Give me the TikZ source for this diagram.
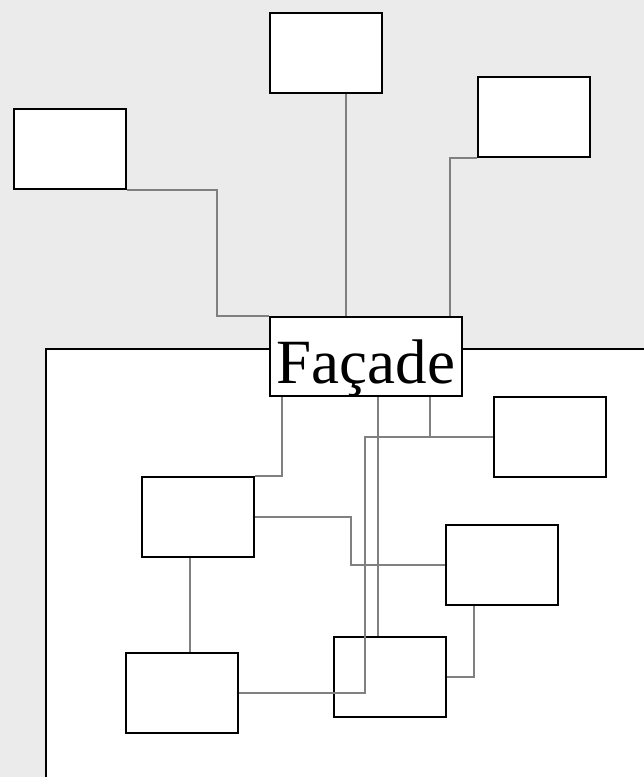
\documentclass[tikz,border=0pt]{standalone}
\usepackage{fontspec}
\setmainfont{Liberation Serif}
\definecolor{bggray}{RGB}{235,235,235}
\definecolor{wiregray}{RGB}{128,128,128}

\begin{document}
\begin{tikzpicture}[
        x=1pt, y=-1pt,
        boxnode/.style={rectangle, draw=black, line width=2pt, fill=white, minimum width=112pt, minimum height=80pt, inner sep=0pt},
        facadenode/.style={boxnode, minimum width=192pt, minimum height=79pt, font=\fontsize{63}{63}\selectfont, text height=53pt, text depth=0pt},
        wire/.style={draw=wiregray, line width=1.3pt}
    ]

        \useasboundingbox (0,0) rectangle (644,777);
        \clip (0,0) rectangle (644,777);
        \fill [bggray] (0,0) rectangle (644,777);
        \draw [fill=white, line width=2pt] (46,349) rectangle (700,840);

        \node [boxnode] (Client1) at (70,149) {};
        \node [boxnode] (Client2) at (326,53) {};
        \node [boxnode] (Client3) at (534,117) {};
        \node [facadenode] (Facade) at (366,356.5) {Façade};

        \node [boxnode] (Sub1) at (198,517) {};
        \node [boxnode] (Sub2) at (502,565) {};
        \node [boxnode] (Sub3) at (390,677) {};
        \node [boxnode] (Sub4) at (550,437) {};
        \node [boxnode] (Sub5) at (182,693) {};

        \draw [wire] (Facade.north west) -- ++(-52,0) |- (Client1.south east);
        \draw [wire] ([xshift=-20pt]Facade.north) -- ([xshift=-20pt]Facade.north |- Client2.south);
        \draw [wire] (Client3.south west) -| ([xshift=84pt]Facade.north);

        \draw [wire] ([xshift=-84pt]Facade.south) |- (Sub1.north east);
        \draw [wire] ([xshift=12pt]Facade.south) -- ([xshift=12pt]Facade.south |- Sub3.north);
        \draw [wire] ([xshift=64pt]Facade.south) |- (Sub4.west);
        \draw [wire] (Sub4.west) -- ++(-128,0) |- (Sub5.east);
        \draw [wire] (Sub1.east) -- ++(96,0) |- (Sub2.west);
        \draw [wire] ([xshift=-8pt]Sub1.south) -- ([xshift=-8pt]Sub1.south |- Sub5.north);
        \draw [wire] ([xshift=-28pt]Sub2.south) |- (Sub3.east);

    \end{tikzpicture}
\end{document}
